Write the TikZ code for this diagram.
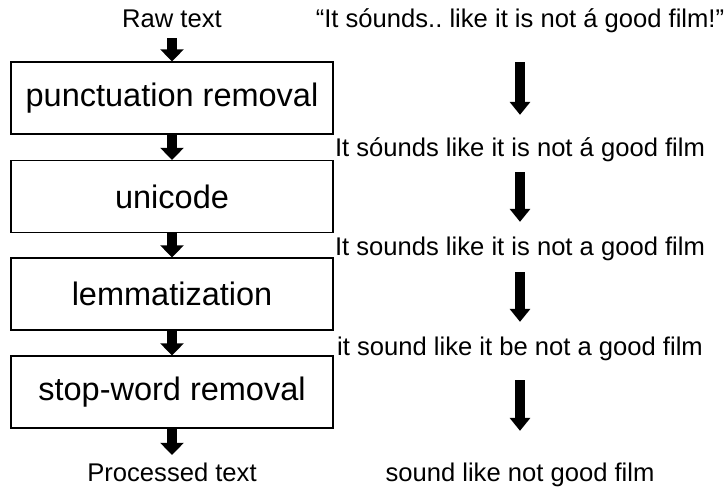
\documentclass[tikz,border=0pt]{standalone}
\usepackage{fontspec}
\setmainfont{Liberation Sans}
\usetikzlibrary{arrows.meta,positioning}
\frenchspacing
\tikzset{
  stage/.style={draw,line width=1.3pt,minimum width=322pt,minimum height=72pt,
    inner sep=0pt,font=\fontsize{32.5}{38}\selectfont},
  txt/.style={inner sep=0pt,text height=18.5pt,text depth=5.4pt,
    font=\fontsize{25.6}{30}\selectfont},
  fatarrow/.style={line width=10pt,-{Triangle[length=12pt,width=23pt]}},
  thinarrow/.style={line width=9.5pt,-{Triangle[length=13pt,width=20pt]}},
}
\begin{document}
\begin{tikzpicture}[x=1pt,y=-1pt]
\useasboundingbox (0,0) rectangle (728,487);
% pipeline
\node[txt] (raw) at (172,20.5) {Raw text};
\node[stage] (punct) at (172,98) {punctuation removal};
\node[stage] (uni) at (172,196.5) {unicode};
\node[stage] (lemma) at (172,294) {lemmatization};
\node[stage] (stop) at (172,392) {stop-word removal};
\node[txt] (proc) at (172,474.5) {Processed text};
\draw[fatarrow,shorten <=5.6pt] (raw) -- (punct);
\draw[fatarrow] (punct) -- (uni);
\draw[fatarrow] (uni) -- (lemma);
\draw[fatarrow] (lemma) -- (stop);
\draw[fatarrow,shorten >=7.5pt] (stop) -- (proc);
% example sentence
\node[txt] (s0) at (520,20.5) {“It sóunds.. like it is not á good film!”};
\node[txt] (s1) at (520,149.5) {It sóunds like it is not á good film};
\node[txt] (s2) at (520,248.5) {It sounds like it is not a good film};
\node[txt] (s3) at (520,348.5) {it sound like it be not a good film};
\node[txt] (s4) at (520,474.5) {sound like not good film};
\draw[thinarrow,shorten <=29.6pt,shorten >=22.5pt] (s0) -- (s1);
\draw[thinarrow,shorten <=10.6pt,shorten >=14.5pt] (s1) -- (s2);
\draw[thinarrow,shorten <=11.6pt,shorten >=14.5pt] (s2) -- (s3);
\draw[thinarrow,shorten <=19.6pt,shorten >=31.5pt] (s3) -- (s4);
\end{tikzpicture}
\end{document}
